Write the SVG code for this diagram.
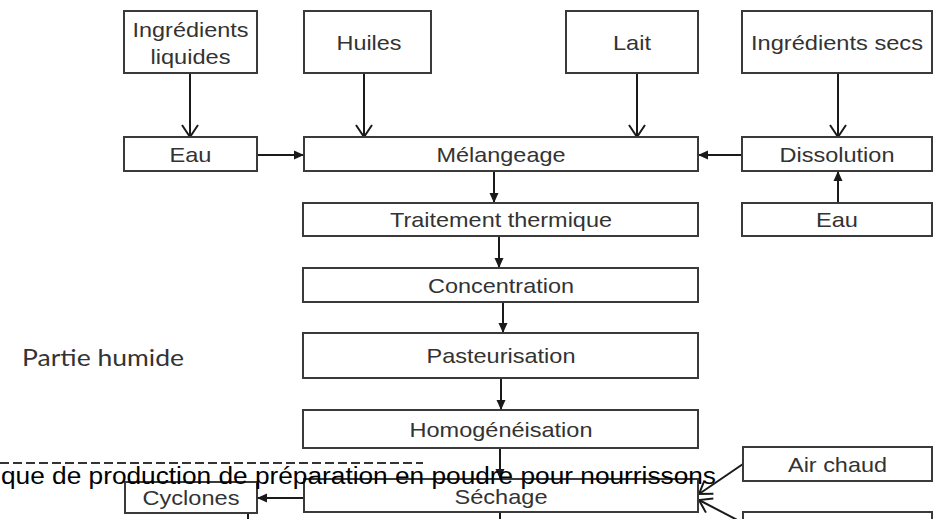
<svg xmlns="http://www.w3.org/2000/svg" width="934" height="519" viewBox="0 0 934 519">
  <style>
    .box { fill: #ffffff; stroke: #3a3a3a; stroke-width: 2; }
    .lbl { font-family: "Liberation Sans", Arial, sans-serif; font-size: 21px; fill: #333333; text-anchor: middle; }
    .wire { fill: none; stroke: #1a1a1a; stroke-width: 2; }
    .fill-head { marker-end: url(#solid); }
    .open-head { marker-end: url(#chevron); }
    .caption { font-family: "Liberation Sans", Arial, sans-serif; font-size: 23px; fill: #000000; }
    .side { font-family: Lato, "Open Sans", sans-serif; font-size: 24px; fill: #333333; }
  </style>
  <defs>
    <marker id="solid" markerUnits="userSpaceOnUse" markerWidth="11" markerHeight="10" refX="10" refY="4.5" orient="auto" overflow="visible">
      <path d="M0,0 L10,4.5 L0,9 Z" fill="#1a1a1a"/>
    </marker>
    <marker id="chevron" markerUnits="userSpaceOnUse" markerWidth="14" markerHeight="18" refX="12" refY="8" orient="auto" overflow="visible">
      <path d="M0,0 L12,8 L0,16" fill="none" stroke="#1a1a1a" stroke-width="2"/>
    </marker>
  </defs>

  <rect width="934" height="519" fill="#ffffff"/>

  <!-- side label -->
  <text class="side" x="22" y="366" textLength="162" lengthAdjust="spacingAndGlyphs">Partie humide</text>

  <!-- section divider -->
  <line x1="0" y1="463" x2="423" y2="463" stroke="#333333" stroke-width="2" stroke-dasharray="9 4"/>

  <!-- connectors -->
  <g id="connectors">
    <line class="wire open-head" x1="190" y1="73" x2="190" y2="137"/>
    <line class="wire open-head" x1="364" y1="73" x2="364" y2="137"/>
    <line class="wire open-head" x1="637" y1="73" x2="637" y2="137"/>
    <line class="wire open-head" x1="838" y1="73" x2="838" y2="137"/>
    <line class="wire fill-head" x1="257" y1="155" x2="304" y2="155"/>
    <line class="wire fill-head" x1="742" y1="155" x2="698" y2="155"/>
    <line class="wire fill-head" x1="838" y1="203" x2="838" y2="171"/>
    <line class="wire fill-head" x1="494" y1="171" x2="494" y2="203"/>
    <line class="wire fill-head" x1="499" y1="236" x2="499" y2="268"/>
    <line class="wire fill-head" x1="503" y1="302" x2="503" y2="333"/>
    <line class="wire fill-head" x1="501" y1="378" x2="501" y2="410"/>
    <line class="wire fill-head" x1="500" y1="448" x2="500" y2="479"/>
    <line class="wire" x1="500" y1="512" x2="500" y2="522"/>
    <line class="wire fill-head" x1="304" y1="498" x2="257" y2="498"/>
    <line class="wire" x1="248" y1="513" x2="248" y2="522"/>
    <line class="wire open-head" x1="743" y1="464" x2="699" y2="494"/>
    <line class="wire open-head" x1="745" y1="524" x2="699" y2="500"/>
  </g>

  <!-- inputs -->
  <g id="ingredients-liquides">
    <rect class="box" x="124" y="11" width="133" height="62"/>
    <text class="lbl" x="190.5" y="37" textLength="116" lengthAdjust="spacingAndGlyphs">Ingrédients</text>
    <text class="lbl" x="190.5" y="64" textLength="80" lengthAdjust="spacingAndGlyphs">liquides</text>
  </g>
  <g id="huiles">
    <rect class="box" x="304" y="11" width="127" height="62"/>
    <text class="lbl" x="369" y="50" textLength="65" lengthAdjust="spacingAndGlyphs">Huiles</text>
  </g>
  <g id="lait">
    <rect class="box" x="566" y="11" width="132" height="62"/>
    <text class="lbl" x="632" y="50" textLength="38" lengthAdjust="spacingAndGlyphs">Lait</text>
  </g>
  <g id="ingredients-secs">
    <rect class="box" x="742" y="11" width="190" height="62"/>
    <text class="lbl" x="837" y="50" textLength="172" lengthAdjust="spacingAndGlyphs">Ingrédients secs</text>
  </g>
  <g id="eau-liquides">
    <rect class="box" x="124" y="137" width="133" height="34"/>
    <text class="lbl" x="190.5" y="161.5" textLength="42" lengthAdjust="spacingAndGlyphs">Eau</text>
  </g>
  <g id="dissolution">
    <rect class="box" x="742" y="137" width="190" height="34"/>
    <text class="lbl" x="837" y="161.5" textLength="115" lengthAdjust="spacingAndGlyphs">Dissolution</text>
  </g>
  <g id="eau-secs">
    <rect class="box" x="742" y="203" width="190" height="33"/>
    <text class="lbl" x="837" y="227" textLength="42" lengthAdjust="spacingAndGlyphs">Eau</text>
  </g>

  <!-- main process line -->
  <g id="melangeage">
    <rect class="box" x="304" y="137" width="394" height="34"/>
    <text class="lbl" x="501" y="161.5" textLength="129" lengthAdjust="spacingAndGlyphs">Mélangeage</text>
  </g>
  <g id="traitement-thermique">
    <rect class="box" x="303" y="203" width="395" height="33"/>
    <text class="lbl" x="501" y="227" textLength="222" lengthAdjust="spacingAndGlyphs">Traitement thermique</text>
  </g>
  <g id="concentration">
    <rect class="box" x="303" y="268" width="395" height="34"/>
    <text class="lbl" x="501" y="292.5" textLength="146" lengthAdjust="spacingAndGlyphs">Concentration</text>
  </g>
  <g id="pasteurisation">
    <rect class="box" x="303" y="333" width="395" height="45"/>
    <text class="lbl" x="501" y="363" textLength="149" lengthAdjust="spacingAndGlyphs">Pasteurisation</text>
  </g>
  <g id="homogeneisation">
    <rect class="box" x="303" y="410" width="395" height="38"/>
    <text class="lbl" x="501" y="436.5" textLength="183" lengthAdjust="spacingAndGlyphs">Homogénéisation</text>
  </g>
  <g id="sechage">
    <rect class="box" x="304" y="479" width="394" height="33"/>
    <text class="lbl" x="501" y="504" textLength="93" lengthAdjust="spacingAndGlyphs">Séchage</text>
  </g>
  <g id="cyclones">
    <rect class="box" x="125" y="482" width="132" height="31"/>
    <text class="lbl" x="191" y="505" textLength="97" lengthAdjust="spacingAndGlyphs">Cyclones</text>
  </g>
  <g id="air-chaud">
    <rect class="box" x="743" y="447" width="189" height="34"/>
    <text class="lbl" x="837.5" y="472" textLength="99" lengthAdjust="spacingAndGlyphs">Air chaud</text>
  </g>
  <g id="lower-input">
    <rect class="box" x="743" y="512" width="189" height="34"/>
  </g>

  <!-- figure caption running across the drawing -->
  <text class="caption" x="1" y="484" textLength="715" lengthAdjust="spacingAndGlyphs">que de production de préparation en poudre pour nourrissons</text>
</svg>
